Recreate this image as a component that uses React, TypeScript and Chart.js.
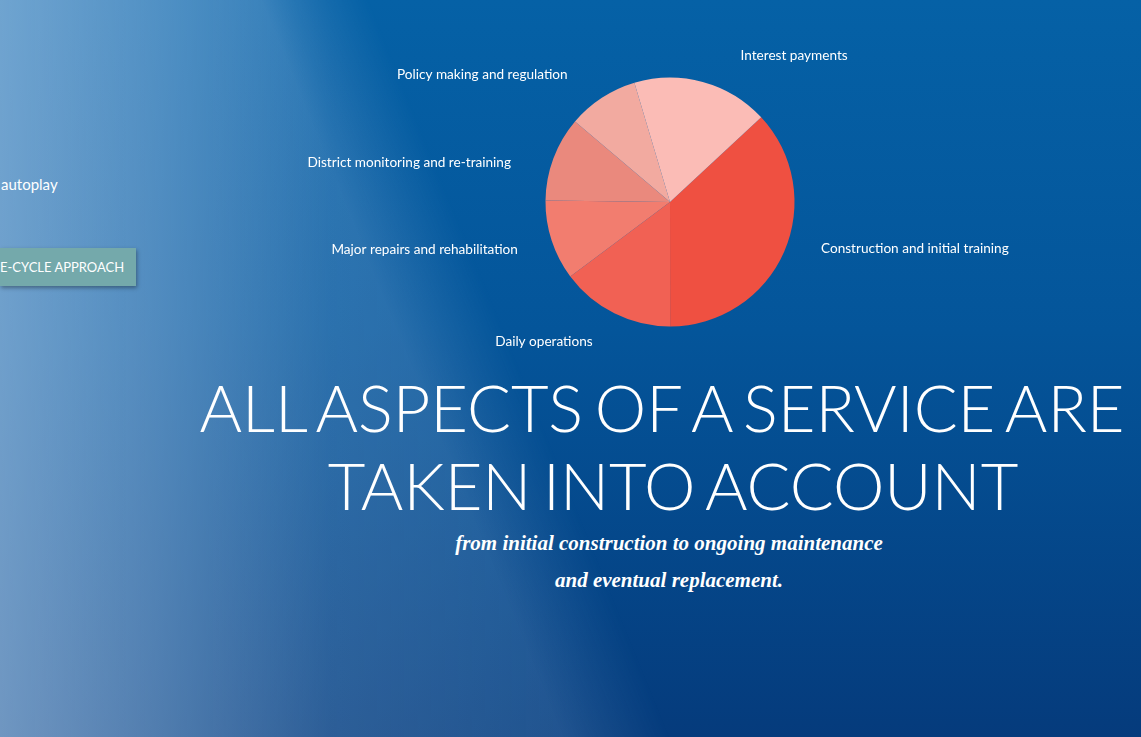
import React, { useEffect, useRef } from 'react';
import Chart from 'chart.js/auto';

// cost shares, in drawing order (clockwise from the start angle)
const categories = [
  'Construction and initial training',
  'Daily operations',
  'Major repairs and rehabilitation',
  'District monitoring and re-training',
  'Policy making and regulation',
  'Interest payments',
];
const shares = [36.9, 14.8, 10.4, 11.0, 9.2, 17.7];
const sliceColors = ['#ef5041', '#f16154', '#f27d6f', '#ea897d', '#f2aaa0', '#fbbcb6'];

// small pixel nudges for the outer labels (layout only)
const labelNudge: [number, number][] = [
  [13, -13],
  [-10, 5],
  [-9, 1],
  [-18, 13],
  [-20, -1],
  [31, -1],
];

const outerLabels = {
  id: 'outerLabels',
  afterDraw(chart: any) {
    const ctx = chart.ctx;
    const meta = chart.getDatasetMeta(0);
    ctx.save();
    ctx.font = '13.6px Lato';
    ctx.fillStyle = '#ffffff';
    ctx.textBaseline = 'middle';
    meta.data.forEach((arc: any, i: number) => {
      const { x, y, startAngle, endAngle, outerRadius } = arc.getProps(
        ['x', 'y', 'startAngle', 'endAngle', 'outerRadius'],
        true
      );
      const mid = (startAngle + endAngle) / 2;
      const r = outerRadius + 26;
      const px = x + Math.cos(mid) * r;
      const py = y + Math.sin(mid) * r;
      ctx.textAlign = Math.cos(mid) >= 0 ? 'left' : 'right';
      const [dx, dy] = labelNudge[i];
      ctx.fillText(chart.data.labels[i], px + dx, py + dy);
    });
    ctx.restore();
  },
};

const CostPie = () => {
  const chartRef = useRef<HTMLCanvasElement>(null);
  const chartInstance = useRef<Chart | null>(null);

  useEffect(() => {
    if (!chartRef.current) return;
    if (chartInstance.current) chartInstance.current.destroy();
    const ctx = chartRef.current.getContext('2d');
    if (!ctx) return;
    chartInstance.current = new Chart(ctx, {
      type: 'pie',
      data: {
        labels: categories,
        datasets: [
          {
            data: shares,
            backgroundColor: sliceColors,
            borderWidth: 0,
          },
        ],
      },
      options: {
        animation: false,
        responsive: true,
        maintainAspectRatio: false,
        rotation: 47.1,
        layout: { padding: { top: 35.5, bottom: 35.5 } },
        plugins: {
          legend: { display: false },
          tooltip: { enabled: false },
        },
      },
      plugins: [outerLabels],
    });
    return () => {
      if (chartInstance.current) {
        chartInstance.current.destroy();
        chartInstance.current = null;
      }
    };
  }, []);

  return (
    <div style={{ position: 'absolute', left: 300, top: 42, width: 740, height: 320 }}>
      <canvas ref={chartRef}></canvas>
    </div>
  );
};

const titleLine: React.CSSProperties = {
  position: 'absolute',
  left: 190,
  width: 954,
  textAlign: 'center',
  fontWeight: 300,
  fontSize: 65,
  lineHeight: '78px',
  wordSpacing: -6,
  whiteSpace: 'nowrap',
};

const haze = 'linear-gradient(67.8deg, #000 39%, transparent 46.5%)';

const App = () => {
  return (
    <div
      style={{
        position: 'fixed',
        inset: 0,
        overflow: 'hidden',
        fontFamily: "Lato, 'Open Sans', sans-serif",
        color: '#ffffff',
        background: 'linear-gradient(180deg, #0561a6 0%, #04559a 45%, #053b7c 100%)',
      }}
    >
      {/* light haze on the left, cut by a slanted edge */}
      <div
        style={{
          position: 'absolute',
          inset: 0,
          background:
            'linear-gradient(90deg, rgba(172,202,232,0.64) 0px, rgba(168,200,232,0.48) 150px, rgba(160,195,230,0.26) 330px, rgba(150,190,228,0.18) 600px, rgba(150,190,228,0.14) 800px)',
          WebkitMaskImage: haze,
          maskImage: haze,
        }}
      />

      <div style={{ position: 'absolute', left: 1, top: 175, fontSize: 15 }}>autoplay</div>
      <div
        style={{
          position: 'absolute',
          left: 0,
          top: 248,
          width: 136,
          height: 38,
          background: '#74a9ab',
          boxShadow: '1px 2px 4px rgba(0,0,0,0.35)',
          fontSize: 13,
          lineHeight: '38px',
          whiteSpace: 'nowrap',
        }}
      >
        E-CYCLE APPROACH
      </div>

      <CostPie />

      <div style={{ ...titleLine, top: 368, transform: 'translateX(-5px)' }}>
        ALL ASPECTS OF A SERVICE ARE
      </div>
      <div style={{ ...titleLine, top: 446, transform: 'translateX(6px)' }}>
        TAKEN INTO ACCOUNT
      </div>
      <div
        style={{
          position: 'absolute',
          left: 190,
          width: 958,
          top: 525,
          textAlign: 'center',
          fontFamily: "'Liberation Serif', serif",
          fontStyle: 'italic',
          fontWeight: 700,
          fontSize: 21,
          lineHeight: '37px',
        }}
      >
        from initial construction to ongoing maintenance
        <br />
        and eventual replacement.
      </div>
    </div>
  );
};

export default App;
